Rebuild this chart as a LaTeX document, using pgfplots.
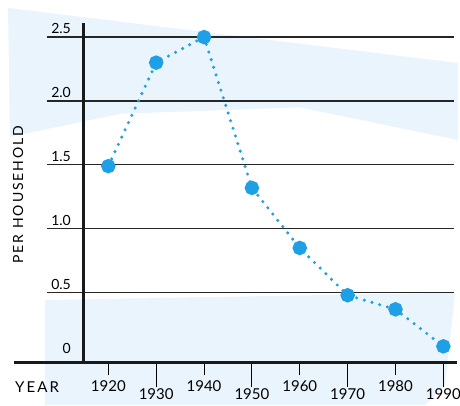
\documentclass[border=0pt]{standalone}
\usepackage{pgfplots}
\pgfplotsset{compat=1.18}
\usepackage{fontspec}
\setmainfont{Lato}
\newfontfamily\spacedfont{Lato}[LetterSpace=14]
\definecolor{dotblue}{RGB}{30,160,230}
\definecolor{paperblue}{RGB}{234,244,252}
\begin{document}
\begin{tikzpicture}
\begin{axis}[
  set layers,
  x=4.786pt, y=127.8pt,
  xmin=1900.3, xmax=1992.9, ymin=-0.045, ymax=2.613,
  axis x line=bottom, axis y line=left,
  x axis line style={-, line width=3.5pt, color=black!90},
  y axis line style={draw=none},
  clip=false,
  xtick={1920,1940,1960,1980},
  xticklabels={1920,1940,1960,1980},
  extra x ticks={1930,1950,1970,1990},
  extra x tick labels={1930,1950,1970,1990},
  xtick align=outside,
  major tick length=13pt,
  x tick style={line width=1pt, black},
  extra x tick style={major tick length=25pt, xticklabel style={yshift=3.5pt}},
  xticklabel style={anchor=base, inner sep=0pt, yshift=-15.7pt, font=\fontsize{15}{18}\selectfont},
  ytick={0,0.5,1,1.5,2,2.5},
  yticklabels={0,0.5,1.0,1.5,2.0,2.5},
  ytick align=inside, y tick style={draw=none},
  yticklabel style={anchor=south east, inner sep=0pt, xshift=57pt, yshift=3pt, font=\fontsize{14}{17}\selectfont},
  xlabel={\spacedfont YEAR},
  xlabel style={at={(axis description cs:0.0023,-0.0875)}, anchor=base west, inner sep=0pt, font=\fontsize{15}{18}\selectfont},
  ylabel={\spacedfont PER HOUSEHOLD},
  ylabel style={at={(axis description cs:0.0203,0.4941)}, anchor=base, inner sep=0pt, font=\fontsize{14}{17}\selectfont},
]
% paper tint
\addplot[on layer=axis background, fill=paperblue, draw=none, forget plot] coordinates {
  (1899.04,2.728) (1993.07,2.297) (1993.07,1.695) (1960.05,1.95) (1922.44,1.90) (1899.46,1.72)} -- cycle;
\addplot[on layer=axis background, fill=paperblue, draw=none, forget plot] coordinates {
  (1906.77,0.442) (1992.44,0.50) (1990.35,-0.223) (1986.17,-0.379) (1906.77,-0.379)} -- cycle;
% grid lines
\addplot[black!85, line width=1.2pt, forget plot] coordinates {(1907.1,0.5)(1992.2,0.5)};
\addplot[black!85, line width=1.2pt, forget plot] coordinates {(1907.1,1.0)(1992.2,1.0)};
\addplot[black!85, line width=1.2pt, forget plot] coordinates {(1907.1,1.5)(1992.2,1.5)};
\addplot[black!85, line width=1.2pt, forget plot] coordinates {(1907.1,2.0)(1992.2,2.0)};
\addplot[black!85, line width=1.2pt, forget plot] coordinates {(1907.1,2.5)(1992.2,2.5)};
% y axis line
\addplot[black!90, line width=3.3pt, forget plot] coordinates {(1914.78,-0.045)(1914.78,2.613)};
% data
\addplot[dotblue, line width=3.4pt, line cap=round, dash pattern=on 0pt off 8pt,
  mark=*, mark size=5.5pt, mark options={solid, fill=dotblue, draw=none}] coordinates {
  (1920,1.49) (1930,2.30) (1940,2.50) (1950,1.32) (1960,0.85) (1970,0.48) (1980,0.37) (1990,0.08)};
\coordinate (bl) at (axis cs:1897.37,-0.379);
\coordinate (tr) at (axis cs:1993.48,2.790);
\end{axis}
\pgfresetboundingbox
\path[use as bounding box] (bl) rectangle (tr);
\end{tikzpicture}
\end{document}
